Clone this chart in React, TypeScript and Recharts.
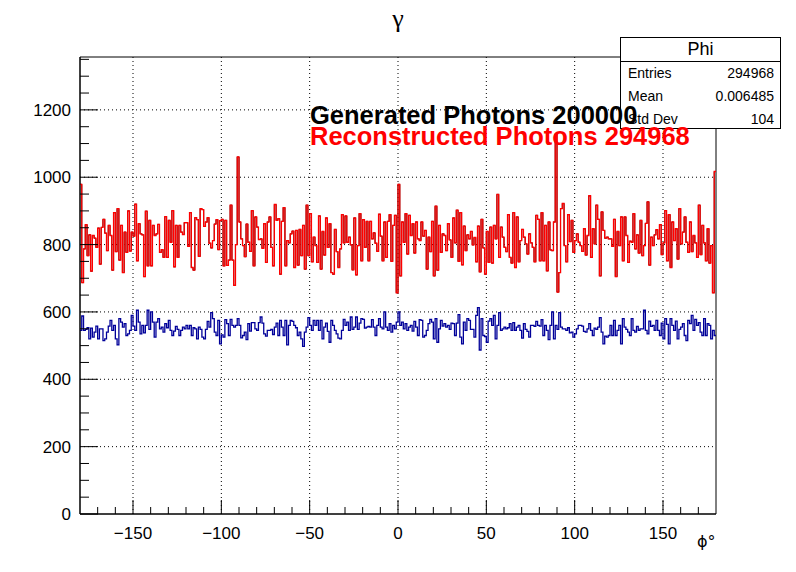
import { LineChart, Line, XAxis, YAxis, ReferenceLine, ReferenceArea } from "recharts";

// reconstructed photons per 1 degree bin (red) in 6 chunks
const recA = [979, 687, 787, 859, 767, 829, 721, 827, 819, 792, 849, 742, 851, 875, 834, 782, 857, 827, 724, 895,
  779, 907, 754, 857, 717, 837, 777, 900, 781, 837, 825, 920, 752, 862, 832, 829, 705, 899, 737, 872,
  737, 857, 827, 832, 860, 777, 785, 762, 883, 762, 872, 807, 901, 734, 857, 762, 857, 837, 830, 865];
const recB = [865, 795, 895, 732, 724, 880, 874, 765, 907, 904, 854, 867, 880, 804, 790, 812, 861, 874, 785, 871,
  875, 737, 872, 738, 754, 917, 754, 679, 800, 1060, 867, 817, 797, 764, 861, 807, 780, 901, 737, 882,
  852, 815, 817, 789, 862, 747, 867, 882, 792, 737, 919, 872, 877, 712, 869, 910, 737, 812, 805, 832];
const recC = [840, 732, 842, 739, 845, 767, 857, 727, 917, 767, 892, 749, 822, 797, 747, 885, 727, 839, 769, 879,
  792, 862, 717, 712, 845, 779, 732, 787, 889, 805, 885, 807, 822, 799, 725, 879, 710, 797, 892, 752,
  874, 792, 869, 752, 869, 817, 835, 804, 780, 890, 825, 752, 867, 762, 869, 889, 750, 857, 887, 657];
const recD = [979, 707, 867, 807, 892, 772, 887, 827, 862, 775, 867, 817, 812, 867, 825, 842, 727, 822, 779, 869,
  707, 914, 724, 857, 777, 832, 827, 782, 862, 814, 762, 879, 805, 902, 750, 895, 740, 855, 782, 829,
  817, 839, 799, 821, 749, 855, 719, 875, 790, 712, 839, 747, 852, 745, 857, 817, 949, 762, 852, 822];
const recE = [792, 779, 889, 762, 745, 895, 732, 882, 749, 812, 845, 822, 802, 772, 832, 805, 792, 749, 887, 875,
  752, 895, 752, 857, 722, 867, 784, 782, 867, 1128, 659, 717, 907, 922, 797, 749, 889, 809, 872, 777,
  812, 832, 807, 797, 780, 847, 769, 827, 945, 762, 847, 802, 917, 875, 707, 897, 842, 819, 822, 817];
const recF = [817, 795, 875, 705, 839, 797, 882, 752, 882, 827, 747, 810, 807, 892, 787, 829, 775, 872, 767, 797,
  863, 927, 739, 822, 797, 829, 844, 817, 859, 770, 805, 901, 752, 889, 732, 867, 812, 847, 757, 907,
  802, 837, 882, 807, 777, 867, 779, 827, 805, 762, 917, 770, 857, 805, 752, 847, 745, 797, 657, 1017];

// generated photons per bin (blue)
const genA = [545, 588, 545, 548, 553, 520, 552, 525, 540, 558, 520, 550, 550, 515, 520, 540, 558, 575, 545, 560,
  520, 502, 580, 570, 555, 565, 530, 535, 545, 590, 558, 545, 605, 570, 535, 560, 538, 560, 605, 548,
  600, 570, 525, 570, 580, 550, 555, 540, 565, 553, 575, 545, 530, 543, 557, 548, 530, 545, 555, 550];
const genB = [560, 550, 560, 530, 553, 550, 520, 555, 548, 525, 520, 548, 572, 555, 598, 580, 540, 530, 575, 505,
  532, 525, 577, 565, 530, 578, 560, 555, 560, 580, 560, 523, 530, 540, 518, 565, 543, 568, 568, 550,
  545, 568, 585, 567, 535, 528, 545, 545, 548, 533, 555, 567, 530, 575, 555, 530, 575, 502, 560, 575];
const genC = [572, 560, 553, 530, 540, 520, 498, 540, 555, 583, 560, 545, 575, 560, 575, 545, 575, 520, 555, 567,
  542, 510, 575, 560, 545, 535, 522, 520, 545, 578, 560, 570, 545, 585, 548, 555, 585, 548, 567, 580,
  578, 552, 555, 557, 555, 577, 555, 530, 560, 580, 555, 550, 600, 555, 545, 565, 540, 560, 550, 570];
const genD = [600, 560, 570, 550, 565, 545, 555, 560, 543, 572, 555, 530, 577, 575, 525, 530, 545, 565, 578, 570,
  520, 580, 510, 550, 575, 558, 565, 555, 560, 548, 567, 565, 530, 567, 592, 525, 505, 570, 545, 580,
  575, 548, 548, 525, 590, 613, 487, 580, 530, 527, 510, 573, 580, 560, 590, 520, 560, 598, 545, 550];
const genE = [555, 550, 553, 565, 545, 568, 545, 555, 560, 545, 522, 565, 548, 542, 525, 560, 560, 557, 572, 560,
  558, 577, 530, 560, 545, 518, 560, 600, 520, 560, 548, 598, 555, 550, 550, 545, 553, 538, 540, 525,
  535, 550, 560, 560, 558, 542, 540, 550, 565, 545, 530, 552, 548, 555, 583, 540, 505, 528, 525, 530];
const genF = [560, 530, 575, 530, 545, 560, 505, 580, 555, 548, 540, 530, 580, 545, 540, 557, 545, 550, 550, 605,
  545, 535, 573, 557, 560, 545, 575, 545, 530, 567, 520, 580, 563, 505, 580, 560, 545, 573, 520, 548,
  555, 565, 530, 515, 575, 565, 590, 545, 578, 560, 568, 540, 530, 580, 530, 565, 560, 520, 545, 530];

const reconstructed = [...recA, ...recB, ...recC, ...recD, ...recE, ...recF];
const generated = [...genA, ...genB, ...genC, ...genD, ...genE, ...genF];

const xLabels = [-150, -100, -50, 0, 50, 100, 150];
const yLabels = [0, 200, 400, 600, 800, 1000, 1200];

const PHI_MIN = -180;
const Y_MAX = 1357;

// histogram rows, one per bin low edge, plus closing edge at +180
const rows = reconstructed.map((v, i) => ({ phi: PHI_MIN + i, rec: v, gen: generated[i] }));
rows.push({ phi: 180, rec: reconstructed[reconstructed.length - 1], gen: generated[generated.length - 1] });

const xTicks: number[] = [];
for (let t = -170; t <= 170; t += 10) xTicks.push(t);
const yTicks: number[] = [];
for (let t = 0; t <= 1350; t += 50) yTicks.push(t);

const LEFT = 80;
const RIGHT = 716;
const TOP = 57;
const BOTTOM = 514;
const AXIS_W = 40;
const AXIS_H = 30;
const FONT = '"Liberation Sans", Arial, Helvetica, sans-serif';

const fmt = (v: number) => (v < 0 ? "\u2212" + Math.abs(v) : String(v));

const XTick = (props: any) => {
  const { x, payload } = props;
  const v = payload.value;
  const major = xLabels.includes(v);
  return (
    <g>
      <line x1={x} x2={x} y1={BOTTOM} y2={BOTTOM - (major ? 14 : 7)} stroke="#000" />
      {major && (
        <text x={x} y={BOTTOM + 25} textAnchor="middle" fontSize={17} fontFamily={FONT} fill="#000">
          {fmt(v)}
        </text>
      )}
    </g>
  );
};

const YTick = (props: any) => {
  const { y, payload } = props;
  const v = payload.value;
  const major = yLabels.includes(v);
  return (
    <g>
      <line x1={LEFT} x2={LEFT + (major ? 18 : 9)} y1={y} y2={y} stroke="#000" />
      {major && (
        <text x={LEFT - 9} y={y + 6} textAnchor="end" fontSize={17} fontFamily={FONT} fill="#000">
          {v}
        </text>
      )}
    </g>
  );
};

export default function App() {
  return (
    <div style={{ position: "absolute", left: 0, top: 0, width: 796, height: 572, background: "#fff", fontFamily: FONT }}>
      <LineChart
        width={796}
        height={572}
        data={rows}
        margin={{ top: TOP, right: 796 - RIGHT, bottom: 572 - BOTTOM - AXIS_H, left: LEFT - AXIS_W }}
      >
        <XAxis
          dataKey="phi"
          type="number"
          domain={[-180, 180]}
          ticks={xTicks}
          tick={(p: any) => <XTick {...p} />}
          tickLine={false}
          height={AXIS_H}
          stroke="#000"
          allowDataOverflow
          interval={0}
        />
        <YAxis
          type="number"
          domain={[0, Y_MAX]}
          ticks={yTicks}
          tick={(p: any) => <YTick {...p} />}
          tickLine={false}
          width={AXIS_W}
          stroke="#000"
          allowDataOverflow
          interval={0}
        />
        {xLabels.map((v) => (
          <ReferenceLine key={"gx" + v} x={v} stroke="#000" strokeDasharray="1 3" />
        ))}
        {yLabels.slice(1).map((v) => (
          <ReferenceLine key={"gy" + v} y={v} stroke="#000" strokeDasharray="1 3" />
        ))}
        <ReferenceArea x1={-180} x2={180} y1={0} y2={Y_MAX} fill="none" stroke="#000" strokeWidth={1} />
        <Line dataKey="rec" type="stepAfter" stroke="#000" strokeWidth={1} dot={false} isAnimationActive={false} />
        <Line dataKey="rec" type="stepAfter" stroke="#ff0000" strokeWidth={1.3} dot={false} isAnimationActive={false} />
        <Line dataKey="gen" type="stepAfter" stroke="#000099" strokeWidth={1.3} dot={false} isAnimationActive={false} />
      </LineChart>

      <div style={{ position: "absolute", left: 0, width: 796, top: 4, textAlign: "center", fontFamily: '"Liberation Serif", "DejaVu Serif", serif', fontSize: 26 }}>
        γ
      </div>
      <div style={{ position: "absolute", left: 697, top: 532, fontFamily: '"DejaVu Sans", "Liberation Sans", sans-serif', fontSize: 16 }}>
        {"\u03D5\u00B0"}
      </div>

      <div
        style={{
          position: "absolute",
          left: 620,
          top: 37,
          width: 159,
          height: 90,
          border: "1px solid #000",
          background: "#fff",
          fontSize: 14,
          lineHeight: "23px",
        }}
      >
        <div style={{ height: 23, borderBottom: "1px solid #000", textAlign: "center", fontSize: 18, lineHeight: "23px" }}>Phi</div>
        <div style={{ display: "flex", justifyContent: "space-between", padding: "0 6px 0 7px" }}>
          <span>Entries</span>
          <span>294968</span>
        </div>
        <div style={{ display: "flex", justifyContent: "space-between", padding: "0 6px 0 7px" }}>
          <span>Mean</span>
          <span>0.006485</span>
        </div>
        <div style={{ display: "flex", justifyContent: "space-between", padding: "0 6px 0 7px" }}>
          <span>Std Dev</span>
          <span>104</span>
        </div>
      </div>

      <div style={{ position: "absolute", left: 310, top: 100, fontWeight: "bold", fontSize: 25.5, lineHeight: "30px", color: "#000", whiteSpace: "nowrap" }}>
        Generated Photons 200000
      </div>
      <div style={{ position: "absolute", left: 310, top: 121, fontWeight: "bold", fontSize: 25.5, lineHeight: "30px", color: "#ff0000", whiteSpace: "nowrap" }}>
        Reconstructed Photons 294968
      </div>
    </div>
  );
}
